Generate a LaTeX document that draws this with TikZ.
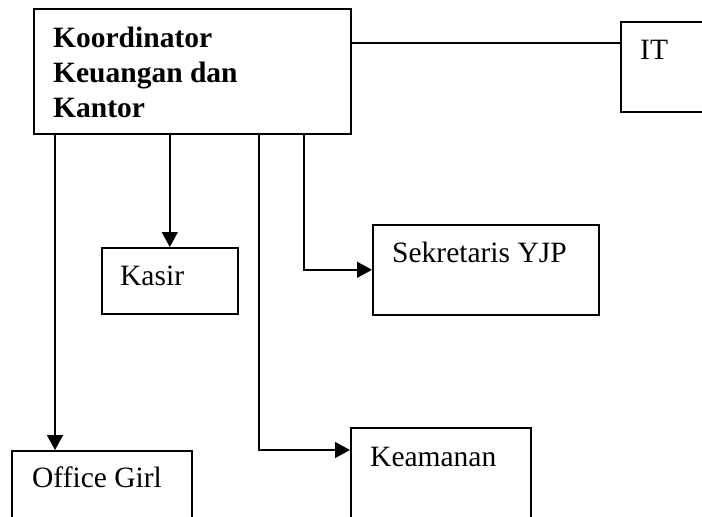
\documentclass[tikz,border=0pt]{standalone}
\usepackage{fontspec}
\setmainfont{Liberation Serif}
\usetikzlibrary{arrows.meta}
\begin{document}
\begin{tikzpicture}[x=1pt,y=-1pt,
  box/.style={draw=black, line width=1.6pt, rectangle, inner sep=0pt, anchor=north west},
  lbl/.style={inner sep=0pt, anchor=base west, font=\fontsize{29.5}{35}\selectfont},
  link/.style={draw=black, line width=1.5pt},
  arr/.style={link, -{Triangle[length=15pt,width=16pt]}}]
\useasboundingbox (0,0) rectangle (702,517);
\clip (0,0) rectangle (702,517);

% boxes
\node[box, minimum width=317pt, minimum height=125pt] (main) at (33,8) {};
\node[box, minimum width=95pt,  minimum height=90pt]  (it)   at (620,21) {};
\node[box, minimum width=136pt, minimum height=66pt]  (kasir) at (101,247) {};
\node[box, minimum width=226pt, minimum height=90pt]  (sek)  at (372,224) {};
\node[box, minimum width=180pt, minimum height=95pt]  (og)   at (11,450) {};
\node[box, minimum width=180pt, minimum height=95pt]  (kea)  at (350,427) {};

% labels (a multi-line node sits on the baseline of its last line)
\node[lbl, font=\fontsize{29.5}{35}\selectfont\bfseries, align=left] (mainT) at (53,117)
  {Koordinator\\Keuangan dan\\Kantor};
\node[lbl] (itT)    at (640,59)  {IT};
\node[lbl] (kasirT) at (120,285) {Kasir};
\node[lbl] (sekT)   at (392,262) {Sekretaris YJP};
\node[lbl] (ogT)    at (32,487)  {Office Girl};
\node[lbl] (keaT)   at (370,466) {Keamanan};

% branch positions along the bottom of the coordinator box
\coordinate (xog)  at (55,0);
\coordinate (xkea) at (259,0);
\coordinate (xsek) at (304,0);
\coordinate (yit)  at (0,43);
\coordinate (ykea) at (0,450);

% connectors
\draw[link] (main.east |- yit) -- (it.west |- yit);
\draw[arr] (main.south -| xog) -- (og.north -| xog);
\draw[arr] (main.south -| kasir.north) -- (kasir.north);
\draw[arr] (main.south -| xsek) |- (sek.west);
\draw[arr] (main.south -| xkea) |- (kea.west |- ykea);
\end{tikzpicture}
\end{document}
